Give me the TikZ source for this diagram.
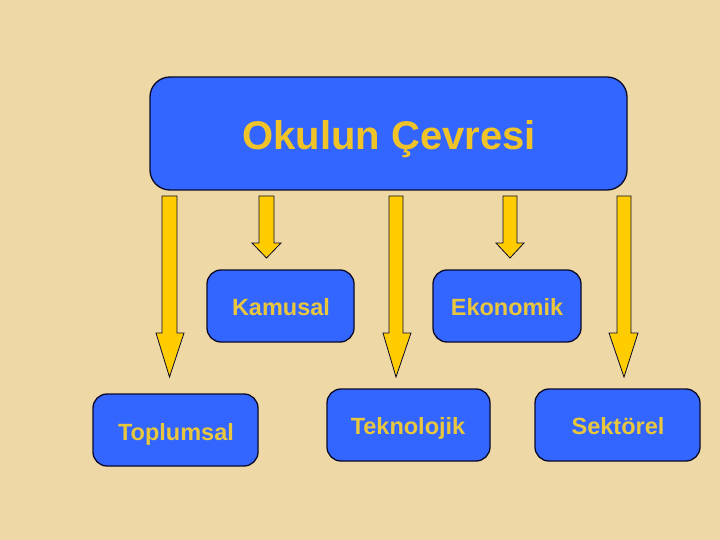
\documentclass[tikz,border=0pt]{standalone}
\usepackage{fontspec}
\setmainfont{Liberation Sans}
\definecolor{parch}{RGB}{238,216,165}
\definecolor{boxblue}{RGB}{51,102,255}
\definecolor{txtyellow}{RGB}{240,196,40}
\definecolor{boxtxt}{RGB}{232,198,62}
\definecolor{arrowyellow}{RGB}{255,204,0}
\definecolor{edge}{RGB}{10,10,40}
\tikzset{
  topbox/.style={draw=edge, line width=1.3pt, fill=boxblue, rounded corners=20pt},
  smallbox/.style={draw=edge, line width=1.3pt, fill=boxblue, rounded corners=14pt},
  toptext/.style={text=txtyellow, anchor=base, inner sep=0pt, font=\fontsize{40}{44}\selectfont\bfseries},
  boxtext/.style={text=boxtxt, anchor=base, inner sep=0pt, font=\fontsize{23.5}{26}\selectfont\bfseries},
  blockarrow/.style={draw=edge, line width=0.8pt, fill=arrowyellow, line join=miter}
}
% #1 shaft left, #2 shaft right, #3 top, #4 head start, #5 head left, #6 head right, #7 tip
\newcommand{\downarrowshape}[7]{%
  \path[blockarrow] (#1,#3) -- (#2,#3) -- (#2,#4) -- (#6,#4) -- ({(#1+#2)/2},#7) -- (#5,#4) -- (#1,#4) -- cycle;}
\begin{document}
\begin{tikzpicture}[x=1pt,y=-1pt]
\useasboundingbox (0,0) rectangle (720,540);
\fill[parch] (0,0) rectangle (720,540);
% top box
\path[topbox] (150,77) rectangle (627,190);
\node[toptext] (top) at (389,150) {Okulun Çevresi};
% arrows
\downarrowshape{162}{177}{196}{333}{156}{184}{377}
\downarrowshape{259}{274}{196}{243}{252}{281}{258}
\downarrowshape{389}{403}{196}{333}{383}{411}{377}
\downarrowshape{503}{517}{196}{243}{496}{524}{258}
\downarrowshape{617}{631}{196}{333}{609}{638}{377}
% boxes
\path[smallbox] (207,270) rectangle (354,342);
\node[boxtext] (kamusal) at (281,315) {Kamusal};
\path[smallbox] (433,270) rectangle (581,342);
\node[boxtext] (ekonomik) at (507,315) {Ekonomik};
\path[smallbox] (93,394) rectangle (258,466);
\node[boxtext] (toplumsal) at (176,440) {Toplumsal};
\path[smallbox] (327,389) rectangle (490,461);
\node[boxtext] (teknolojik) at (408,434) {Teknolojik};
\path[smallbox] (535,389) rectangle (700,461);
\node[boxtext] (sektorel) at (618,434) {Sektörel};
\end{tikzpicture}
\end{document}
